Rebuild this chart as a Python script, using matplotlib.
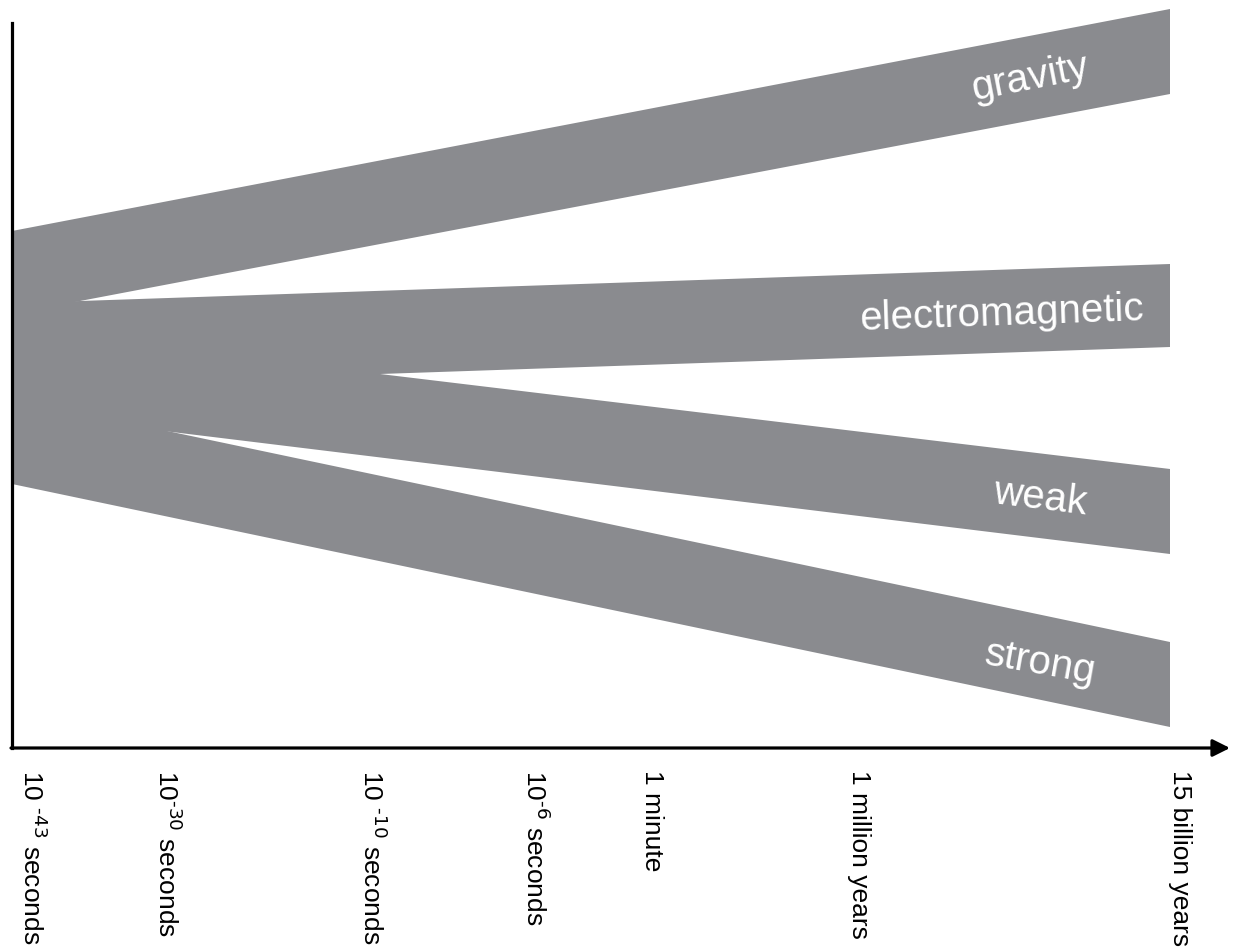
import numpy as np
import matplotlib
matplotlib.use('Agg')
import matplotlib.pyplot as plt

plt.rcParams['font.family'] = ['Liberation Sans', 'DejaVu Sans']
plt.rcParams['mathtext.default'] = 'regular'

# ── Data (schematic units: x = position along time axis, y = drawing height, downward) ──
forces = ['gravity', 'electromagnetic', 'weak', 'strong']

# each edge is a straight line: (start x, start y) -> (end x, end y)
top_start_x    = [12, 80, 380, 172]
top_start_y    = [232, 302, 375, 433]
top_end_y      = [10, 265, 470, 643]
bottom_start_x = [80, 380, 172, 12]
bottom_start_y = [302, 375, 433, 485]
bottom_end_y   = [95, 348, 555, 728]
end_x = 1170
axis_x0 = 12

label_x   = [1030, 1002, 1040, 1040]
label_y   = [78, 314, 498, 663]
label_rot = [11, 2, -7, -10]

tick_pos = [32, 167, 372, 535, 652, 859, 1180]
tick_labels = [r'10 $^{\text{-43}}$ seconds', r'10$^{\text{-30}}$ seconds',
               r'10 $^{\text{-10}}$ seconds', r'10$^{\text{-6}}$ seconds',
               '1 minute', '1 million years', '15 billion years']

BAND = '#8a8b8f'


def edge_at(x, x0, y0, x1, y1):
    # value of the straight edge at x (extended back to the axis)
    return y0 + (y1 - y0) * (x - x0) / (x1 - x0)


fig = plt.figure(figsize=(12.33, 9.53), dpi=100)
ax = fig.add_axes([0, 0, 1, 1])
ax.set_xlim(0, 1233)
ax.set_ylim(953, 0)
ax.axis('off')

# bands: each extended back to the axis, overlaps merge into the trunk
for i in range(len(forces)):
    t0 = edge_at(axis_x0, top_start_x[i], top_start_y[i], end_x, top_end_y[i])
    b0 = edge_at(axis_x0, bottom_start_x[i], bottom_start_y[i], end_x, bottom_end_y[i])
    xs = [axis_x0, end_x, end_x, axis_x0]
    ys = [t0, top_end_y[i], bottom_end_y[i], b0]
    ax.fill(xs, ys, color=BAND, lw=0)
    ax.text(label_x[i], label_y[i], forces[i], color='white', fontsize=29,
            rotation=label_rot[i], rotation_mode='anchor',
            ha='center', va='center')

# axes
ax.plot([axis_x0, axis_x0], [24, 749], color='black', lw=2.3,
        solid_capstyle='projecting')
ax.annotate('', xy=(1230, 749), xytext=(axis_x0 - 1, 749),
            arrowprops=dict(arrowstyle='-|>', color='black', lw=2.3,
                            mutation_scale=26, shrinkA=0, shrinkB=0))

for x, lab in zip(tick_pos, tick_labels):
    ax.text(x, 770, lab, fontsize=19, rotation=-90, ha='center', va='top')

fig.savefig('out.png', dpi=100)
